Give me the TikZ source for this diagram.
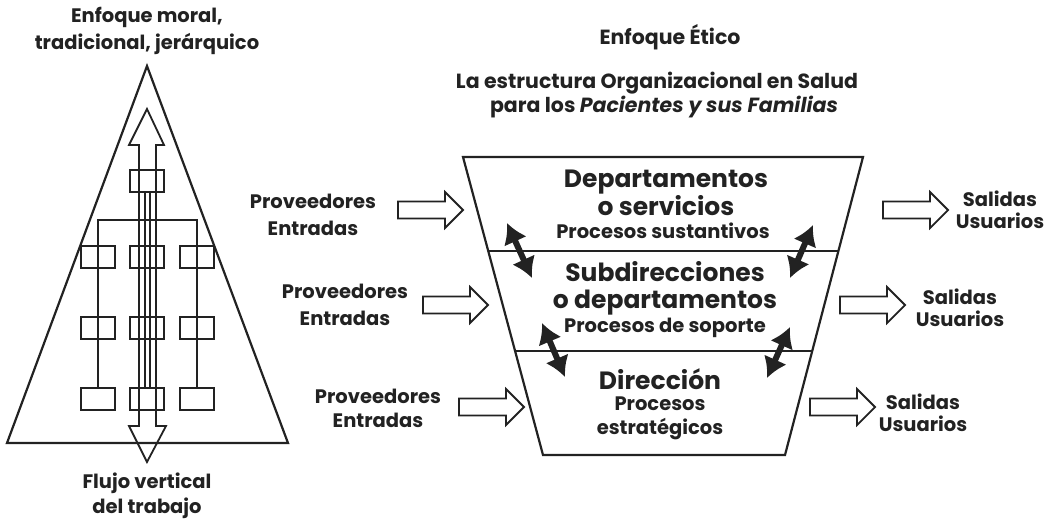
\documentclass[tikz,border=0pt]{standalone}
\usepackage{fontspec}
\setmainfont{Poppins}
\usetikzlibrary{arrows.meta,calc}
\definecolor{ink}{HTML}{222222}
\begin{document}
\begin{tikzpicture}[x=1pt,y=-1pt,line join=miter,
  frame/.style={draw=ink,line width=2.2pt},
  thin/.style={draw=ink,line width=1.8pt},
  lbl/.style={text=ink,align=center,inner sep=0pt,font=\bfseries\fontsize{19.5}{26.5}\selectfont},
  lblS/.style={text=ink,align=center,inner sep=0pt,font=\bfseries\fontsize{19.5}{22.5}\selectfont},
  head/.style={text=ink,align=center,inner sep=0pt,font=\bfseries\fontsize{20.5}{24}\selectfont},
  big/.style={text=ink,align=center,inner sep=0pt,font=\bfseries\fontsize{25}{25}\selectfont},
  sub/.style={text=ink,align=center,inner sep=0pt,font=\bfseries\fontsize{19.5}{24}\selectfont},
  dbl/.style={draw=ink,line width=6pt,{Latex[length=20pt,width=25pt]}-{Latex[length=20pt,width=25pt]}},
  fatarrow/.pic={\draw[thin,fill=white] (0,-8.5) -- (47,-8.5) -- (47,-18) -- (65,0) -- (47,18) -- (47,8.5) -- (0,8.5) -- cycle;}
]
\useasboundingbox (0,0) rectangle (1048,520);
% ---------- left: triangle ----------
\node[lbl] (moral) at (147,31) {Enfoque moral,\\tradicional, jerárquico};
\node[lblS,font=\bfseries\fontsize{19.5}{25}\selectfont] (flujo) at (147,496) {Flujo vertical\\del trabajo};
\coordinate (apex) at (147,66);
\coordinate (bl) at (7,443);
\coordinate (br) at (288,443);
\draw[frame] (apex) -- (br) -- (bl) -- cycle;
% vertical double arrow
\draw[thin] (147,109) -- (164,145) -- (156,145) -- (156,426) -- (166,426) -- (147,462)
  -- (129,426) -- (139,426) -- (139,145) -- (129,145) -- cycle;
\draw[thin] (145,192) -- (145,388);
\draw[thin] (150,192) -- (150,388);
% boxes
\node[thin,minimum width=34pt,minimum height=22pt,inner sep=0pt] (c0) at (147,181) {};
\foreach \r/\y in {1/257,2/328,3/399}{
  \node[thin,minimum width=34pt,minimum height=22pt,inner sep=0pt] (l\r) at (98,\y) {};
  \node[thin,minimum width=34pt,minimum height=22pt,inner sep=0pt] (c\r) at (147,\y) {};
  \node[thin,minimum width=34pt,minimum height=22pt,inner sep=0pt] (r\r) at (197,\y) {};
}
\draw[thin] (l3.north) -- (98,220) -- (197,220) -- (r3.north);
% ---------- right: titles ----------
\node[head] (etico) at (670,37) {Enfoque Ético};
\node[head] (estr1) at (657,83) {La estructura Organizacional en Salud};
\node[head] (estr2) at (664,107) {para los \textit{Pacientes y sus Familias}};
% ---------- trapezoid ----------
\coordinate (t1) at (463,157);
\coordinate (t2) at (863,157);
\coordinate (b2) at (785,455);
\coordinate (b1) at (543,455);
\draw[frame] (t1) -- (t2) -- (b2) -- (b1) -- cycle;
\coordinate (d1l) at ($(t1)!0.3154!(b1)$);
\coordinate (d1r) at ($(t2)!0.3154!(b2)$);
\coordinate (d2l) at ($(t1)!0.651!(b1)$);
\coordinate (d2r) at ($(t2)!0.651!(b2)$);
\draw[frame] (d1l) -- (d1r);
\draw[frame] (d2l) -- (d2r);
\node[big] (dep) at (666,193) {Departamentos\\o servicios};
\node[sub] (sust) at (663,231) {Procesos sustantivos};
\node[big,font=\bfseries\fontsize{25}{27}\selectfont] (subd) at (665,288) {Subdirecciones\\o departamentos};
\node[sub] (sop) at (665,328) {Procesos de soporte};
\node[big] (dir) at (660,379) {Dirección};
\node[sub] (estrat) at (660,418) {Procesos\\estratégicos};
% double arrows
\coordinate (a1s) at (507,223); \coordinate (a1e) at (532,278);
\coordinate (a2s) at (542,323); \coordinate (a2e) at (565,377);
\coordinate (a3s) at (813,225); \coordinate (a3e) at (790,278);
\coordinate (a4s) at (790,327); \coordinate (a4e) at (767,378);
\draw[dbl] (a1s) -- (a1e);
\draw[dbl] (a2s) -- (a2e);
\draw[dbl] (a3s) -- (a3e);
\draw[dbl] (a4s) -- (a4e);
% inputs
\pic at (398,210) {fatarrow};
\pic at (423,305) {fatarrow};
\pic at (459,407) {fatarrow};
\node[lbl] (in1) at (313,215) {Proveedores\\Entradas};
\node[lbl] (in2) at (345,305) {Proveedores\\Entradas};
\node[lblS,font=\bfseries\fontsize{19.5}{24}\selectfont] (in3) at (378,408) {Proveedores\\Entradas};
% outputs
\pic at (883,210) {fatarrow};
\pic at (840,305) {fatarrow};
\pic at (810,407) {fatarrow};
\node[lblS] (out1) at (1000,210) {Salidas\\Usuarios};
\node[lblS] (out2) at (960,308) {Salidas\\Usuarios};
\node[lblS] (out3) at (923,413) {Salidas\\Usuarios};
\end{tikzpicture}
\end{document}
